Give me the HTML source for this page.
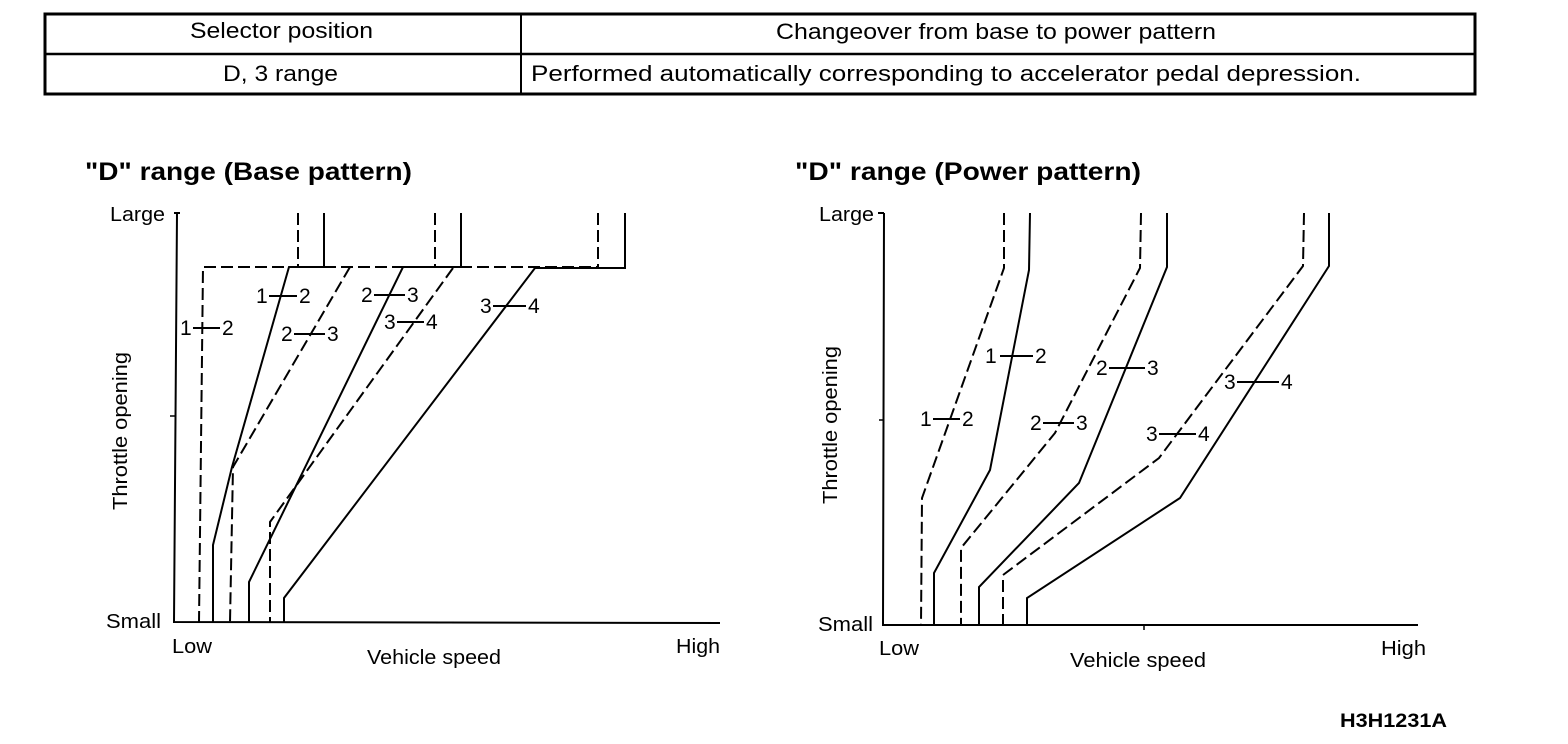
<!DOCTYPE html>
<html><head><meta charset="utf-8"><style>
html,body{margin:0;padding:0;background:#fff;}
svg{display:block;}
text{font-family:"Liberation Sans",Arial,sans-serif;fill:#000;}
</style></head><body>
<svg width="1568" height="744" viewBox="0 0 1568 744" xmlns="http://www.w3.org/2000/svg">
<rect x="45" y="14" width="1430" height="80" fill="none" stroke="#000" stroke-width="3"/>
<line x1="45" y1="54" x2="1475" y2="54" stroke="#000" stroke-width="2.5"/>
<line x1="521" y1="14" x2="521" y2="94" stroke="#000" stroke-width="2"/>
<g font-size="22">
<text x="190" y="38" textLength="183" lengthAdjust="spacingAndGlyphs">Selector position</text>
<text x="776" y="39" textLength="440" lengthAdjust="spacingAndGlyphs">Changeover from base to power pattern</text>
<text x="223" y="81" textLength="115" lengthAdjust="spacingAndGlyphs">D, 3 range</text>
<text x="531" y="81" textLength="830" lengthAdjust="spacingAndGlyphs">Performed automatically corresponding to accelerator pedal depression.</text>
</g>

<text x="85" y="180" font-size="25" font-weight="bold" textLength="327" lengthAdjust="spacingAndGlyphs">"D" range (Base pattern)</text>
<text x="795" y="180" font-size="25" font-weight="bold" textLength="346" lengthAdjust="spacingAndGlyphs">"D" range (Power pattern)</text>

<g fill="none" stroke="#000" stroke-width="2">
<polyline points="177,213 174,622 720,623"/>
<line x1="170" y1="416" x2="176" y2="416" stroke-width="1.5"/>
<line x1="174" y1="213" x2="180" y2="213"/>
<polyline points="298,213 298,267 203,267 199,622" stroke-dasharray="12,5"/>
<line x1="298" y1="267" x2="324" y2="267"/>
<polyline points="324,213 324,267 289,267 232,467 213,545 213,622"/>
<polyline points="435,213 435,267" stroke-dasharray="12,5"/>
<polyline points="350,267 233,467 230,622" stroke-dasharray="12,5"/>
<line x1="324" y1="267" x2="597" y2="267" stroke-dasharray="12,5"/>
<polyline points="461,213 461,267 403,267 249,582 249,622"/>
<polyline points="598,213 598,267" stroke-dasharray="12,5"/>
<polyline points="453,268 270,522 270,622" stroke-dasharray="12,5"/>
<polyline points="625,213 625,268 535,268 284,598 284,622"/>
<line x1="597" y1="268" x2="625" y2="268"/>

<polyline points="884,213 883,625 1418,625"/>
<line x1="878" y1="213" x2="884" y2="213"/>
<line x1="879" y1="420" x2="884" y2="420" stroke-width="1.5"/>
<line x1="1144" y1="625" x2="1144" y2="630" stroke-width="1.5"/>
<polyline points="1004,213 1004,268 922,498 921,625" stroke-dasharray="12,5"/>
<polyline points="1030,213 1029,270 990,470 934,573 934,625"/>
<polyline points="1141,213 1140,268 1055,433 961,548 961,625" stroke-dasharray="12,5"/>
<polyline points="1167,213 1167,267 1079,483 979,587 979,625"/>
<polyline points="1304,213 1303,266 1159,458 1003,575 1003,625" stroke-dasharray="12,5"/>
<polyline points="1329,213 1329,266 1180,498 1027,598 1027,625"/>
</g>

<g font-size="20">
<text x="110" y="221" textLength="55" lengthAdjust="spacingAndGlyphs">Large</text>
<text x="106" y="628" textLength="55" lengthAdjust="spacingAndGlyphs">Small</text>
<text x="172" y="653" textLength="40" lengthAdjust="spacingAndGlyphs">Low</text>
<text x="367" y="664" textLength="134" lengthAdjust="spacingAndGlyphs">Vehicle speed</text>
<text x="676" y="653" textLength="44" lengthAdjust="spacingAndGlyphs">High</text>
<text transform="translate(127,510) rotate(-90)" textLength="158" lengthAdjust="spacingAndGlyphs">Throttle opening</text>
<text x="819" y="221" textLength="55" lengthAdjust="spacingAndGlyphs">Large</text>
<text x="818" y="631" textLength="55" lengthAdjust="spacingAndGlyphs">Small</text>
<text x="879" y="655" textLength="40" lengthAdjust="spacingAndGlyphs">Low</text>
<text x="1070" y="667" textLength="136" lengthAdjust="spacingAndGlyphs">Vehicle speed</text>
<text x="1381" y="655" textLength="45" lengthAdjust="spacingAndGlyphs">High</text>
<text transform="translate(837,504) rotate(-90)" textLength="158" lengthAdjust="spacingAndGlyphs">Throttle opening</text>
<text x="1340" y="727" font-weight="bold" font-size="19" textLength="107" lengthAdjust="spacingAndGlyphs">H3H1231A</text>
</g>

<g font-size="21">
<text x="180" y="335">1</text><text x="222" y="335">2</text>
<text x="256" y="303">1</text><text x="299" y="303">2</text>
<text x="281" y="341">2</text><text x="327" y="341">3</text>
<text x="361" y="302">2</text><text x="407" y="302">3</text>
<text x="384" y="329">3</text><text x="426" y="329">4</text>
<text x="480" y="313">3</text><text x="528" y="313">4</text>
<text x="985" y="363">1</text><text x="1035" y="363">2</text>
<text x="920" y="426">1</text><text x="962" y="426">2</text>
<text x="1096" y="375">2</text><text x="1147" y="375">3</text>
<text x="1030" y="430">2</text><text x="1076" y="430">3</text>
<text x="1224" y="389">3</text><text x="1281" y="389">4</text>
<text x="1146" y="441">3</text><text x="1198" y="441">4</text>
</g>
<g stroke="#000" stroke-width="2">
<line x1="193" y1="328" x2="220" y2="328"/>
<line x1="269" y1="296" x2="297" y2="296"/>
<line x1="294" y1="334" x2="325" y2="334"/>
<line x1="374" y1="295" x2="405" y2="295"/>
<line x1="397" y1="322" x2="424" y2="322"/>
<line x1="493" y1="306" x2="526" y2="306"/>
<line x1="1000" y1="356" x2="1033" y2="356"/>
<line x1="933" y1="419" x2="960" y2="419"/>
<line x1="1109" y1="368" x2="1145" y2="368"/>
<line x1="1043" y1="423" x2="1074" y2="423"/>
<line x1="1237" y1="382" x2="1279" y2="382"/>
<line x1="1159" y1="434" x2="1196" y2="434"/>
</g>
</svg>
</body></html>
